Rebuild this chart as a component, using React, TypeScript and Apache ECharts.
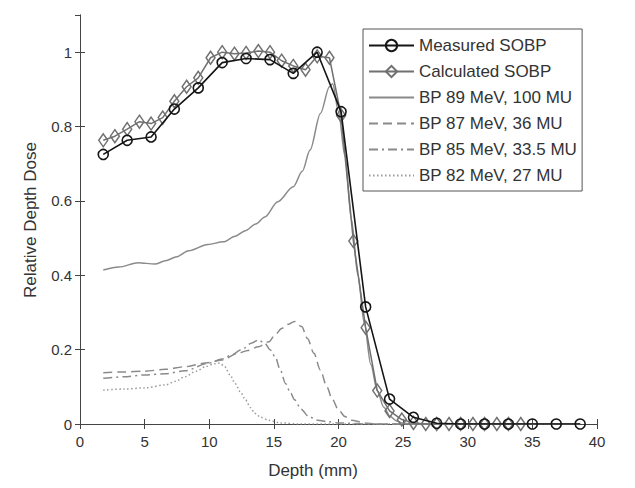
import React, { useEffect, useRef } from "react";
import * as echarts from "echarts";

const measuredX = [1.8, 3.65, 5.5, 7.3, 9.15, 11.0, 12.85, 14.7, 16.5, 18.35, 20.2, 22.1, 23.95, 25.8, 27.6, 29.45, 31.3, 33.15, 35.0, 36.85, 38.7];
const measuredY = [0.725, 0.763, 0.772, 0.847, 0.904, 0.972, 0.983, 0.98, 0.943, 1.0, 0.84, 0.315, 0.067, 0.018, 0.002, 0, 0, 0, 0, 0, 0];

const calcX = [1.8, 2.7, 3.65, 4.6, 5.5, 6.4, 7.3, 8.25, 9.15, 10.1, 11.0, 11.95, 12.85, 13.8, 14.7, 15.6, 16.5, 17.45, 18.35, 19.3, 20.2, 21.15, 22.1, 23.0, 23.95, 24.9, 25.8, 26.75, 27.6, 28.55, 29.45, 30.4, 31.3, 32.25, 33.15, 34.1];
const calcY = [0.763, 0.774, 0.793, 0.813, 0.808, 0.824, 0.868, 0.907, 0.931, 0.985, 1.0, 0.996, 0.998, 1.003, 1.0, 0.977, 0.963, 0.953, 0.989, 0.985, 0.83, 0.492, 0.259, 0.09, 0.035, 0.012, 0.003, 0, 0, 0, 0, 0, 0, 0, 0, 0];

const bp89X = [1.8, 3.0, 4.5, 5.8, 6.6, 7.5, 8.4, 9.9, 11.1, 12.0, 12.8, 13.6, 14.3, 15.3, 16.5, 17.2, 17.8, 18.6, 19.3, 19.55, 20.0, 20.5, 21.0, 21.5, 22.0, 22.5, 23.0, 23.5, 24.0, 24.5, 25.0, 26.0, 30.0, 38.7];
const bp89Y = [0.414, 0.422, 0.434, 0.43, 0.439, 0.45, 0.466, 0.483, 0.49, 0.505, 0.52, 0.538, 0.557, 0.598, 0.638, 0.68, 0.737, 0.835, 0.907, 0.915, 0.84, 0.72, 0.55, 0.4, 0.27, 0.16, 0.09, 0.045, 0.02, 0.008, 0.002, 0, 0, 0];

const bp87X = [1.8, 3.4, 5.0, 6.6, 8.1, 9.9, 11.0, 12.2, 13.0, 13.8, 14.6, 15.1, 15.6, 16.1, 16.6, 17.15, 17.6, 18.1, 18.6, 19.1, 19.5, 20.0, 20.5, 21.0, 22.0, 23.0, 30.0, 38.7];
const bp87Y = [0.138, 0.14, 0.142, 0.147, 0.154, 0.165, 0.172, 0.19, 0.198, 0.208, 0.221, 0.24, 0.257, 0.268, 0.276, 0.262, 0.23, 0.19, 0.145, 0.1, 0.068, 0.038, 0.02, 0.01, 0.003, 0, 0, 0];

const bp85X = [1.8, 3.4, 5.0, 6.6, 8.1, 9.9, 11.0, 11.7, 12.5, 13.3, 13.8, 14.3, 14.7, 15.1, 15.5, 15.9, 16.3, 16.6, 17.1, 17.7, 18.4, 19.2, 20.0, 22.0, 30.0, 38.7];
const bp85Y = [0.123, 0.127, 0.132, 0.135, 0.143, 0.163, 0.175, 0.185, 0.2, 0.218, 0.226, 0.217, 0.2, 0.181, 0.145, 0.109, 0.083, 0.065, 0.04, 0.02, 0.01, 0.006, 0.003, 0, 0, 0];

const bp82X = [1.8, 3.4, 5.0, 6.6, 7.4, 8.1, 9.0, 9.7, 10.4, 10.8, 11.2, 11.6, 12.0, 12.4, 12.8, 13.2, 13.5, 14.0, 14.6, 15.5, 17.0, 25.0, 38.7];
const bp82Y = [0.091, 0.094, 0.097, 0.105, 0.115, 0.127, 0.142, 0.154, 0.162, 0.164, 0.154, 0.133, 0.109, 0.087, 0.065, 0.044, 0.029, 0.018, 0.01, 0.003, 0, 0, 0];

const seriesNames = [
  "Measured SOBP",
  "Calculated SOBP",
  "BP 89 MeV, 100 MU",
  "BP 87 MeV, 36 MU",
  "BP 85 MeV, 33.5 MU",
  "BP 82 MeV, 27 MU",
];

const xTitle = "Depth (mm)";
const yTitle = "Relative Depth Dose";

const zip = (xs: number[], ys: number[]) => xs.map((x, i) => [x, ys[i]]);

const FONT = "'Liberation Sans', Arial, sans-serif";

export default function App() {
  const ref = useRef<HTMLDivElement>(null);
  useEffect(() => {
    document.body.style.margin = "0";
    const chart = echarts.init(ref.current!, null, { renderer: "svg" });
    const axisCommon = {
      axisLine: { show: true, lineStyle: { color: "#444", width: 1 } },
      axisTick: { show: true, inside: true, length: 5, lineStyle: { color: "#444" } },
      splitLine: { show: false },
    };
    const bpLine = (name: string, xs: number[], ys: number[], type: any, color: string) => ({
      name,
      type: "line",
      data: zip(xs, ys),
      showSymbol: false,
      symbol: "circle",
      smooth: 0.3,
      smoothMonotone: "x",
      lineStyle: { color, width: 1.5, type },
      itemStyle: { color, opacity: 0 },
      z: 2,
    });
    chart.setOption({
      animation: false,
      textStyle: { fontFamily: FONT },
      grid: { left: 80, right: 38, top: 15, bottom: 64, containLabel: false },
      xAxis: [
        {
          type: "value",
          min: 0,
          max: 40,
          interval: 5,
          ...axisCommon,
          axisLabel: { fontSize: 15, color: "#333", margin: 10, fontFamily: FONT },
        },
        {
          type: "value",
          position: "top",
          min: 0,
          max: 40,
          interval: 5,
          ...axisCommon,
          axisLabel: { show: false },
        },
      ],
      yAxis: [
        {
          type: "value",
          min: 0,
          max: 1.1,
          interval: 0.2,
          ...axisCommon,
          axisLabel: {
            fontSize: 15,
            color: "#333",
            margin: 8,
            fontFamily: FONT,
            showMaxLabel: false,
            formatter: (v: number) => {
              const r = Math.round(v * 10) / 10;
              if (Math.abs(r - v) > 1e-6) return "";
              return r === 0 ? "0" : r === 1 ? "1" : r.toFixed(1);
            },
          },
        },
        {
          type: "value",
          position: "right",
          min: 0,
          max: 1.1,
          interval: 0.2,
          ...axisCommon,
          axisLabel: { show: false },
        },
      ],
      legend: {
        orient: "vertical",
        left: 363,
        top: 29,
        itemWidth: 45,
        itemHeight: 14,
        itemGap: 9,
        padding: [8, 5, 7, 5],
        borderColor: "#555",
        borderWidth: 1,
        backgroundColor: "#fff",
        textStyle: { fontSize: 17, color: "#333", fontFamily: FONT },
        data: seriesNames.map((n, i) =>
          i < 2 ? { name: n } : { name: n, itemStyle: { opacity: 0 } }
        ),
      },
      graphic: [
        {
          type: "text",
          x: 313,
          y: 470,
          style: {
            text: xTitle,
            fontSize: 17,
            fill: "#333",
            fontFamily: FONT,
            textAlign: "center",
            textVerticalAlign: "middle",
          },
        },
        {
          type: "text",
          x: 30,
          y: 220,
          rotation: Math.PI / 2,
          style: {
            text: yTitle,
            fontSize: 17,
            fill: "#333",
            fontFamily: FONT,
            textAlign: "center",
            textVerticalAlign: "middle",
          },
        },
      ],
      series: [
        bpLine(seriesNames[2], bp89X, bp89Y, "solid", "#8a8a8a"),
        bpLine(seriesNames[3], bp87X, bp87Y, [9, 5], "#8a8a8a"),
        bpLine(seriesNames[4], bp85X, bp85Y, [9, 4, 2, 4], "#8a8a8a"),
        bpLine(seriesNames[5], bp82X, bp82Y, [1.5, 2.5], "#9a9a9a"),
        {
          name: seriesNames[1],
          type: "line",
          data: zip(calcX, calcY),
          symbol: "diamond",
          symbolSize: [9, 13],
          showSymbol: true,
          lineStyle: { color: "#707070", width: 1.5 },
          itemStyle: { color: "rgba(255,255,255,0)", borderColor: "#707070", borderWidth: 1.5 },
          z: 3,
        },
        {
          name: seriesNames[0],
          type: "line",
          data: zip(measuredX, measuredY),
          symbol: "circle",
          symbolSize: 10,
          showSymbol: true,
          lineStyle: { color: "#151515", width: 1.6 },
          itemStyle: { color: "rgba(255,255,255,0)", borderColor: "#151515", borderWidth: 1.6 },
          z: 4,
        },
      ],
    });
    return () => chart.dispose();
  }, []);
  return (
    <div
      ref={ref}
      style={{ position: "fixed", left: 0, top: 0, width: 635, height: 488, background: "#fff" }}
    />
  );
}
